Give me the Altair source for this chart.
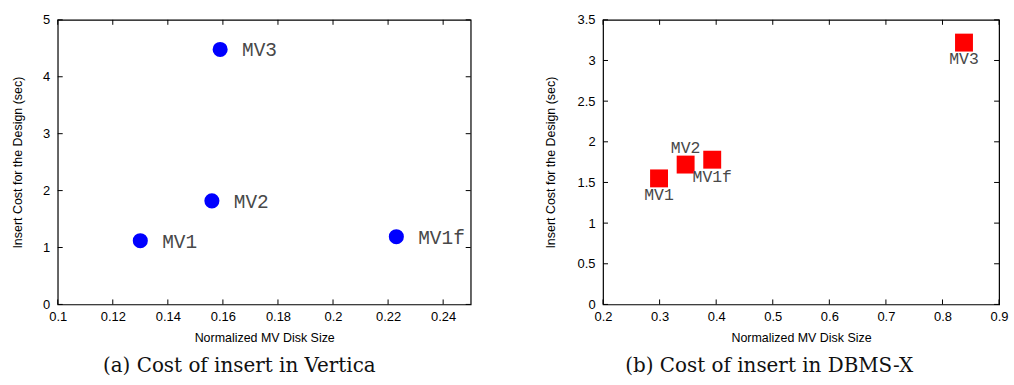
import altair as alt
import pandas as pd

# ---- data ----
names_a = ["MV1", "MV2", "MV3", "MV1f"]
size_a = [0.130, 0.156, 0.159, 0.223]
cost_a = [1.12, 1.82, 4.48, 1.19]

names_b = ["MV1", "MV2", "MV3", "MV1f"]
size_b = [0.299, 0.346, 0.838, 0.393]
cost_b = [1.55, 1.72, 3.22, 1.78]

xticks_a = [0.1, 0.12, 0.14, 0.16, 0.18, 0.2, 0.22, 0.24]
yticks_a = [0, 1, 2, 3, 4, 5]
xticks_b = [0.2, 0.3, 0.4, 0.5, 0.6, 0.7, 0.8, 0.9]
yticks_b = [0, 0.5, 1, 1.5, 2, 2.5, 3, 3.5]

x_title = "Normalized MV Disk Size"
y_title = "Insert Cost for the Design (sec)"
caption_a = "(a) Cost of insert in Vertica"
caption_b = "(b) Cost of insert in DBMS-X"

SANS = "Liberation Sans"
MONO = "Liberation Mono"
SERIF = "DejaVu Serif"
TICK = 5
H = 286
LABEL_COLOR = "#484848"


def panel(names, xs, ys, xdom, ydom, xt, yt, W, mark, text_layers, caption, cap_dx, ytp):
    df = pd.DataFrame({"name": names, "x": xs, "y": ys})
    xsc = alt.Scale(domain=xdom, nice=False, zero=False)
    ysc = alt.Scale(domain=ydom, nice=False, zero=False)
    xax = alt.Axis(values=xt, format="~g", ticks=False, domain=False, grid=False,
                   title=x_title, labelFont=SANS, labelFontSize=13, labelColor="black",
                   labelPadding=6, titleFont=SANS, titleFontSize=12.5,
                   titleFontWeight="normal", titleColor="black", titlePadding=8,
                   labelFlush=False)
    yax = alt.Axis(values=yt, format="~g", ticks=False, domain=False, grid=False,
                   title=y_title, labelFont=SANS, labelFontSize=13, labelColor="black",
                   labelPadding=8, titleFont=SANS, titleFontSize=12.5,
                   titleFontWeight="normal", titleColor="black", titlePadding=ytp)
    base = alt.Chart(df)
    pts = mark(base).encode(
        x=alt.X("x:Q", scale=xsc, axis=xax),
        y=alt.Y("y:Q", scale=ysc, axis=yax),
    )
    txt = [t(base).encode(x=alt.X("x:Q", scale=xsc), y=alt.Y("y:Q", scale=ysc), text="name:N")
           for t in text_layers]

    xtdf = alt.Chart(pd.DataFrame({"v": xt}))
    ytdf = alt.Chart(pd.DataFrame({"v": yt}))
    rx = dict(x=alt.X("v:Q", scale=xsc))
    ry = dict(y=alt.Y("v:Q", scale=ysc))
    ticks = [
        xtdf.mark_rule(color="black").encode(**rx, y=alt.value(H), y2=alt.value(H - TICK)),
        xtdf.mark_rule(color="black").encode(**rx, y=alt.value(0), y2=alt.value(TICK)),
        ytdf.mark_rule(color="black").encode(**ry, x=alt.value(0), x2=alt.value(TICK)),
        ytdf.mark_rule(color="black").encode(**ry, x=alt.value(W), x2=alt.value(W - TICK)),
    ]
    return alt.layer(*ticks, pts, *txt).properties(
        width=W, height=H,
        title=alt.TitleParams(text=caption, orient="bottom", anchor="middle", font=SERIF,
                              fontSize=20, fontWeight="normal", color="#111111",
                              dx=cap_dx, offset=12),
    )


left = panel(
    names_a, size_a, cost_a, [0.1, 0.25], [0, 5], xticks_a, yticks_a, 415,
    lambda b: b.mark_circle(color="#0000ff", size=230, opacity=1),
    [lambda b: b.mark_text(align="left", baseline="middle", dx=22, dy=1, font=MONO,
                           fontSize=19.5, color=LABEL_COLOR)],
    caption_a, -25, 18,
)

below = ["MV1", "MV3", "MV1f"]
above = ["MV2"]
right = panel(
    names_b, size_b, cost_b, [0.2, 0.9], [0, 3.5], xticks_b, yticks_b, 398,
    lambda b: b.mark_square(color="#ff0000", size=324, opacity=1),
    [
        lambda b: b.mark_text(align="center", baseline="middle", dy=17, font=MONO,
                              fontSize=16.5, color=LABEL_COLOR).transform_filter(
            alt.FieldOneOfPredicate(field="name", oneOf=below)),
        lambda b: b.mark_text(align="center", baseline="middle", dy=-17, font=MONO,
                              fontSize=16.5, color=LABEL_COLOR).transform_filter(
            alt.FieldOneOfPredicate(field="name", oneOf=above)),
    ],
    caption_b, -32, 20,
)

chart = alt.hconcat(left, right, spacing=71).properties(
    padding={"left": 11, "top": 12, "right": 5, "bottom": 0},
    background="white",
).configure_view(stroke="black", strokeWidth=1.2)

chart.save("out.html", embed_options={"renderer": "svg", "actions": False})
